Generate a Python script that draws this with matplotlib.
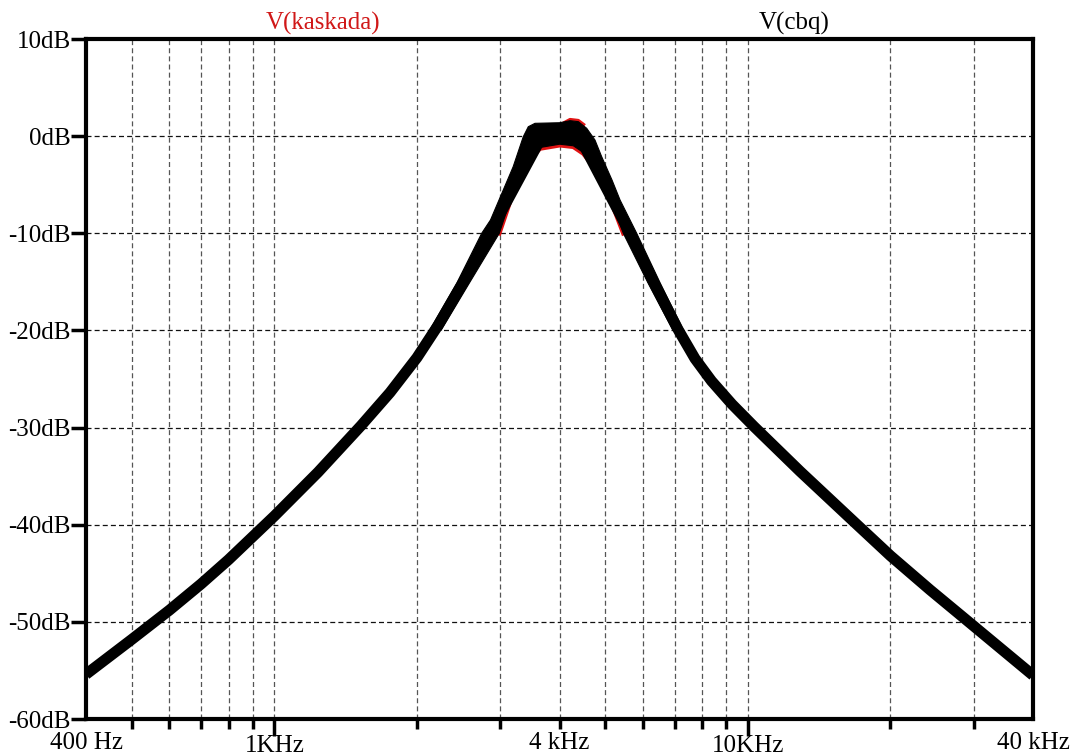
import matplotlib
matplotlib.use("Agg")
import matplotlib.pyplot as plt
from matplotlib.ticker import FixedLocator, NullFormatter

plt.rcParams['font.family'] = ['Liberation Serif', 'DejaVu Serif']

# ---- data ----
# centre line of the black Monte-Carlo band V(cbq) (Hz, dB)
mid_f = [400, 500, 600, 700, 800, 1000, 1236, 1524, 1754, 2000, 2215, 2514, 2860,
         3638, 4000, 4420, 5636, 6334, 7119, 7730, 8376, 9256, 10303, 12882, 16834,
         20000, 24238, 29088, 40000]
mid_db = [-55.4, -51.8, -48.8, -46.1, -43.6, -39.1, -34.6, -29.8, -26.4, -22.8, -19.5,
          -14.9, -9.85, -0.4, 0.1, -0.2, -10.0, -15.1, -19.9, -22.9, -25.2, -27.6, -29.9,
          -34.5, -39.8, -43.2, -46.7, -49.9, -55.5]
# outer (upper) edge of the widened band around the peak
top_f = [2126, 2429, 2740, 2860, 3193, 3354, 3437, 3551, 4004, 4210, 4383, 4565, 4753,
         4911, 5164, 5369, 5822, 6524, 7312]
top_db = [-20.0, -15.1, -10.0, -8.63, -3.15, -0.06, 0.97, 1.32, 1.38, 1.59, 1.49, 0.81,
          -0.40, -2.12, -4.52, -6.57, -10.0, -15.1, -20.0]
# inner (lower) edge of the black band around the peak
bot_f = [2248, 2582, 2985, 3249, 3465, 3638, 4004, 4278, 4490, 4700, 4870, 5113, 5455,
         6149, 6947]
bot_db = [-20.0, -15.1, -10.0, -4.6, -2.2, -1.17, -0.83, -0.99, -1.68, -2.89, -4.26,
          -6.35, -10.0, -15.1, -20.0]
# red V(kaskada) curves showing outside the black band
red_lo_f = [2985, 3249, 3465, 3638, 4004, 4278, 4490, 4700, 4870, 5113, 5455]
red_lo_db = [-10.0, -4.7, -2.31, -1.28, -0.94, -1.1, -1.79, -3.0, -4.37, -6.42, -10.0]
red_hi_f = [4100, 4210, 4383, 4500]
red_hi_db = [1.42, 1.72, 1.62, 1.2]

y_ticks = [10, 0, -10, -20, -30, -40, -50, -60]
y_labels = ['10dB', '0dB', '-10dB', '-20dB', '-30dB', '-40dB', '-50dB', '-60dB']
grid_f = [500, 600, 700, 800, 900, 1000, 2000, 3000, 4000, 5000, 6000, 7000, 8000, 9000,
          10000, 20000, 30000]
major_f = [1000, 10000]
x_label_f = [400, 1000, 4000, 10000, 40000]
x_label_txt = ['400 Hz', '1KHz', '4 kHz', '10KHz', '40 kHz']

RED = '#e01212'

fig = plt.figure(figsize=(10.75, 7.55), dpi=100)
ax = fig.add_axes([86/1075, 1-719/755, (1033-86)/1075, (719-39)/755])
ax.set_xscale('log')
ax.set_xlim(400, 40000)
ax.set_ylim(-60, 10)

# grid
dash = (0, (4, 2.5))
for f in grid_f:
    ax.axvline(f, color='#555555', lw=0.9, linestyle=dash, zorder=1)
for y in y_ticks[1:-1]:
    ax.axhline(y, color='#111111', lw=0.9, linestyle=dash, zorder=1)

# red curves (below the black band)
ax.plot(red_lo_f, red_lo_db, color=RED, lw=3.2, solid_joinstyle='round', zorder=2)
ax.plot(red_hi_f, red_hi_db, color=RED, lw=2.2, solid_joinstyle='round', zorder=2)

# black band: thick centre stroke + filled widened region near the peak
ax.plot(mid_f, mid_db, color='black', lw=7.9, solid_capstyle='butt',
        solid_joinstyle='round', zorder=3)
ax.fill(top_f + bot_f[::-1], top_db + bot_db[::-1], color='black', lw=0.8, ec='black',
        zorder=3)

# axes styling
for s in ax.spines.values():
    s.set_linewidth(3)
    s.set_zorder(5)

ax.set_yticks(y_ticks)
ax.set_yticklabels(y_labels)
ax.tick_params(axis='y', direction='out', length=11, width=2.5, pad=0, labelsize=18)

ax.xaxis.set_major_locator(FixedLocator(major_f))
ax.xaxis.set_minor_locator(FixedLocator([f for f in grid_f if f not in major_f]))
ax.xaxis.set_major_formatter(NullFormatter())
ax.xaxis.set_minor_formatter(NullFormatter())
ax.tick_params(axis='x', which='major', direction='out', length=12, width=2.5)
ax.tick_params(axis='x', which='minor', direction='out', length=7, width=2.5)
ax.tick_params(axis='both', which='both', top=False, right=False)

for f, t in zip(x_label_f, x_label_txt):
    off_px = 32.5 if f in major_f else 30
    ax.annotate(t, xy=(f, -60), xycoords='data', xytext=(0, -off_px * 72 / 100),
                textcoords='offset points', ha='center', va='baseline', fontsize=18,
                annotation_clip=False)

fig.text(323.5/1075, 1-30/755, 'V(kaskada)', color='#d01818', fontsize=18,
         ha='center', va='baseline')
fig.text(794.5/1075, 1-30/755, 'V(cbq)', color='black', fontsize=18,
         ha='center', va='baseline')

fig.savefig('out.png', dpi=100)
